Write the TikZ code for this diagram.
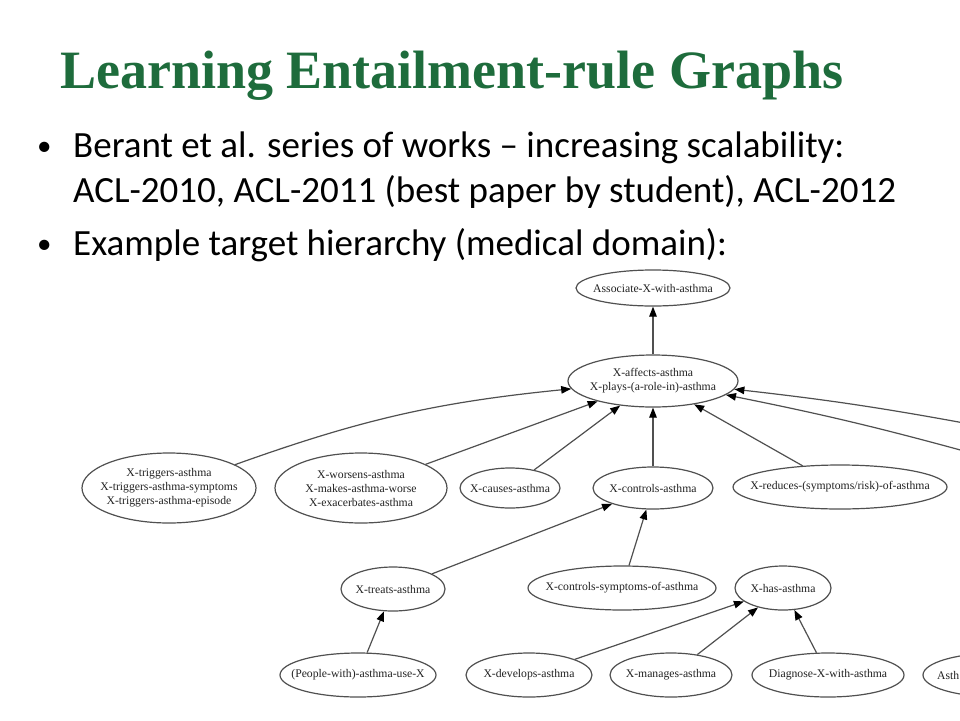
\documentclass[tikz,border=0pt]{standalone}
\usepackage{fontspec}
\setmainfont{Liberation Serif}
\newfontfamily\slidefont{Carlito}
\usetikzlibrary{shapes.geometric,arrows.meta}
\definecolor{titlegreen}{RGB}{30,108,60}
\definecolor{linegray}{RGB}{80,80,80}
\definecolor{txtgray}{RGB}{35,35,35}
\tikzset{
  titletext/.style={font=\fontsize{54}{60}\selectfont\bfseries, text=titlegreen, inner sep=0pt, anchor=base west},
  bullettext/.style={font=\slidefont\fontsize{37}{42}\selectfont, text=black, inner sep=0pt, anchor=base west},
  bulletdot/.style={font=\slidefont\fontsize{29}{32}\selectfont, text=black, inner sep=0pt, anchor=base west},
  gnode/.style={draw=linegray, line width=1.2pt, ellipse, inner sep=0pt},
  ntext/.style={font=\fontsize{11.7}{14}\selectfont, text=txtgray, align=center, inner sep=0pt},
  edge/.style={draw=linegray, line width=1.2pt, -{Triangle[length=10pt,width=7.5pt,color=black]}},
}
\newcommand{\gn}[7]{\node[gnode, minimum width=#4pt, minimum height=#5pt,
  label={[ntext, name=#1-t]center:{#6}}] (#1) at (#2,#3) {};}
\begin{document}
\begin{tikzpicture}[x=1pt,y=-1pt]
\useasboundingbox (0,0) rectangle (960,720);
\clip (0,0) rectangle (960,720);
\fill[white] (0,0) rectangle (960,720);

% title and bullets
\node[titletext] (title) at (60,88) {Learning Entailment-rule Graphs};
\node[bulletdot] (d1) at (37,155.5) {•};
\node[bullettext] (b1) at (73,157) {Berant et al. series of works – increasing scalability:};
\node[bullettext] (b2) at (73,202) {ACL-2010, ACL-2011 (best paper by student), ACL-2012};
\node[bulletdot] (d3) at (37,253.5) {•};
\node[bullettext] (b3) at (73,255) {Example target hierarchy (medical domain):};

% graph nodes
\gn{assoc}{653}{288}{154}{36}{Associate-X-with-asthma}{}
\gn{aff}{653}{381}{170}{52}{X-affects-asthma\\X-plays-(a-role-in)-asthma}{}
\gn{trig}{169}{488}{174}{70}{X-triggers-asthma\\X-triggers-asthma-symptoms\\X-triggers-asthma-episode}{}
\gn{wors}{361}{488}{172}{70}{X-worsens-asthma\\X-makes-asthma-worse\\X-exacerbates-asthma}{}
\gn{caus}{510}{488}{100}{40}{X-causes-asthma}{}
\gn{ctrl}{653}{488}{120}{42}{X-controls-asthma}{}
\gn{red}{840}{487}{214}{44}{X-reduces-(symptoms/risk)-of-asthma}{}
\gn{treat}{393}{589}{104}{44}{X-treats-asthma}{}
\gn{csym}{622}{588}{188}{44}{X-controls-symptoms-of-asthma}{}
\gn{has}{783}{588}{96}{44}{X-has-asthma}{}
\gn{people}{358}{675}{156}{44}{(People-with)-asthma-use-X}{}
\gn{dev}{529}{675}{126}{44}{X-develops-asthma}{}
\gn{man}{671}{675}{122}{44}{X-manages-asthma}{}
\gn{diag}{828}{675}{152}{44}{Diagnose-X-with-asthma}{}
\node[gnode, minimum width=150pt, minimum height=44pt] (asth) at (998,675) {};
\node[ntext, anchor=base west] (asth-t) at (937,679) {Asth};

% free ends of edges from nodes beyond the right border
\coordinate (r1) at (975,425);
\coordinate (r2) at (975,454);

% edges
\draw[edge] (aff) -- (assoc);
\draw[edge] (trig) to[bend left=7] (aff);
\draw[edge] (wors) -- (aff);
\draw[edge] (caus) -- (aff);
\draw[edge] (ctrl) -- (aff);
\draw[edge] (red) -- (aff);
\draw[edge] (r1) to[bend right=2] (aff);
\draw[edge] (r2) to[bend right=2] (aff);
\draw[edge] (treat) -- (ctrl);
\draw[edge] (csym) -- (ctrl);
\draw[edge] (people) -- (treat);
\draw[edge] (dev) -- (has);
\draw[edge] (man) -- (has);
\draw[edge] (diag) -- (has);
\end{tikzpicture}
\end{document}
